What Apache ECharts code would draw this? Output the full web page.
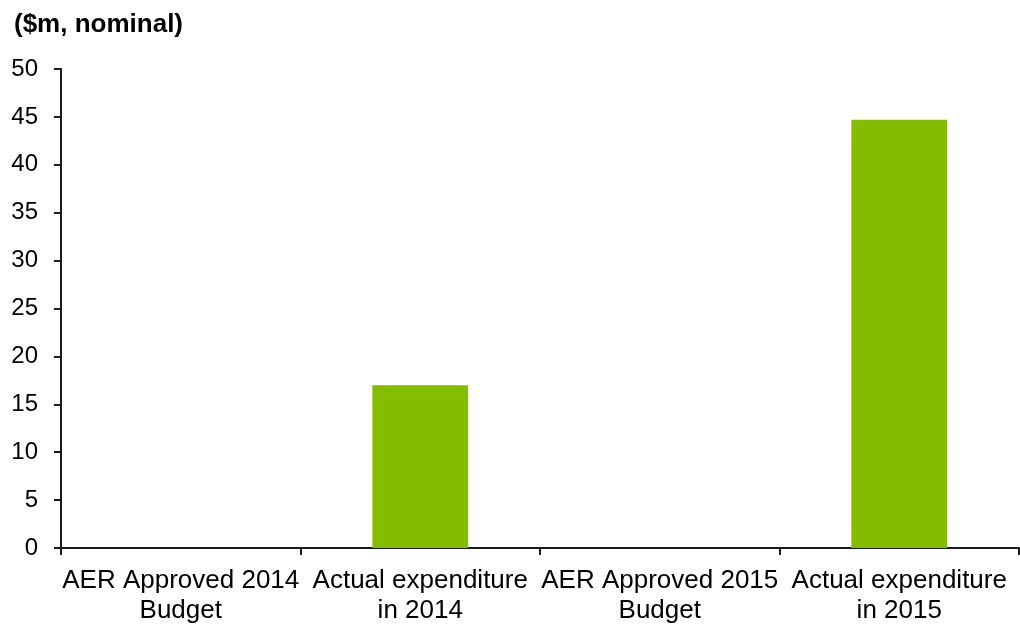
<!DOCTYPE html>
<html>
<head>
<meta charset="utf-8">
<script src="https://cdn.jsdelivr.net/npm/echarts@6/dist/echarts.min.js"></script>
<style>
  html, body { margin: 0; padding: 0; background: #fff; }
  #chart { width: 1020px; height: 625px; }
</style>
</head>
<body>
<div id="chart"></div>
<script>
// Expenditure categories and values ($m, nominal)
const categories = [
  'AER Approved 2014\nBudget',
  'Actual expenditure\nin 2014',
  'AER Approved 2015\nBudget',
  'Actual expenditure\nin 2015'
];
const expenditure = [null, 17.0, null, 44.7];
const unitLabel = '($m, nominal)';

const chart = echarts.init(document.getElementById('chart'), null, { renderer: 'canvas' });
const font = '"Liberation Sans", Arial, sans-serif';

chart.setOption({
  animation: false,
  title: {
    text: unitLabel,
    left: 9,
    top: 7,
    textStyle: { fontFamily: font, fontSize: 26, fontWeight: 'bold', color: '#000' }
  },
  grid: { left: 61, right: 1, top: 69, bottom: 77, containLabel: false, outerBoundsMode: 'none' },
  xAxis: {
    type: 'category',
    data: categories,
    axisLine: { lineStyle: { color: '#1a1a1a', width: 2 } },
    axisTick: { show: true, length: 7, alignWithLabel: false, lineStyle: { color: '#1a1a1a', width: 2 } },
    axisLabel: {
      fontFamily: font, fontSize: 26, color: '#000',
      lineHeight: 30, margin: 18, interval: 0
    }
  },
  yAxis: {
    type: 'value',
    min: 0, max: 50, interval: 5,
    axisLine: { show: true, lineStyle: { color: '#1a1a1a', width: 2 } },
    axisTick: { show: true, length: 7, lineStyle: { color: '#1a1a1a', width: 2 } },
    splitLine: { show: false },
    axisLabel: { fontFamily: font, fontSize: 24, color: '#000', margin: 23 }
  },
  series: [{
    type: 'bar',
    data: expenditure,
    barWidth: '40%',
    itemStyle: { color: '#84BC00' }
  }]
});
</script>
</body>
</html>
